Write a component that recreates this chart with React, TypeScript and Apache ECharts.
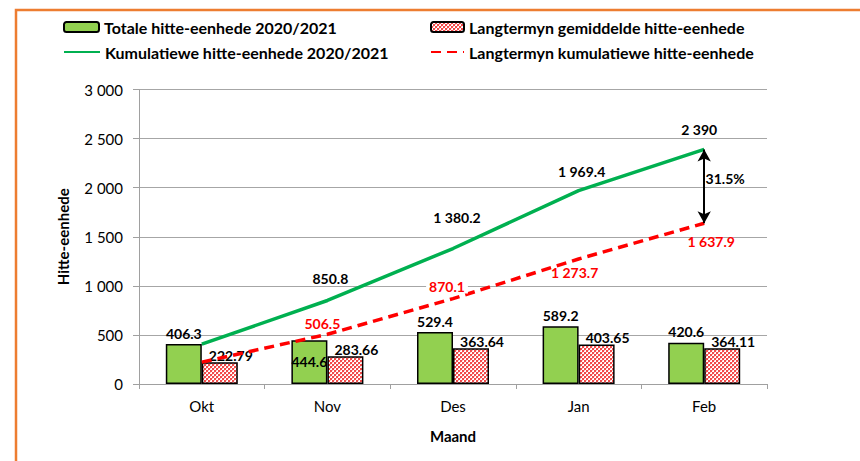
import React, { useEffect, useRef } from "react";
import * as echarts from "echarts";

const months = ["Okt", "Nov", "Des", "Jan", "Feb"];
const totalUnits = [406.3, 444.6, 529.4, 589.2, 420.6];
const longTermAvg = [222.79, 283.66, 363.64, 403.65, 364.11];
const cumulative = [406.3, 850.8, 1380.2, 1969.4, 2390];
const longTermCumulative = [222.79, 506.5, 870.1, 1273.7, 1637.9];
const yTicks = [0, 500, 1000, 1500, 2000, 2500, 3000];

const seriesNames = [
  "Totale hitte-eenhede 2020/2021",
  "Langtermyn gemiddelde hitte-eenhede",
  "Kumulatiewe hitte-eenhede 2020/2021",
  "Langtermyn kumulatiewe hitte-eenhede",
];

// label offsets (styling only)
const greenLineLabelOffsets: (number[] | null)[] = [null, [3, -22], [4, -31], [3, -19], [-5, -20]];
const redLineLabelOffsets: (number[] | null)[] = [null, [-5, -11], [-6, -12], [-4, 14], [7, 18]];

const FONT = "Lato";

function fmt(v: number): string {
  const s = String(v);
  const [i, d] = s.split(".");
  return i.replace(/\B(?=(\d{3})+(?!\d))/g, " ") + (d ? "." + d : "");
}

function makePattern(): HTMLCanvasElement {
  const c = document.createElement("canvas");
  c.width = 4;
  c.height = 4;
  const ctx = c.getContext("2d")!;
  ctx.fillStyle = "#ffffff";
  ctx.fillRect(0, 0, 4, 4);
  ctx.fillStyle = "#f24a4a";
  ctx.fillRect(0, 0, 2, 2);
  ctx.fillRect(2, 2, 2, 2);
  ctx.fillStyle = "#fbb";
  ctx.fillRect(2, 0, 1, 1);
  ctx.fillRect(0, 2, 1, 1);
  return c;
}

export default function App() {
  const ref = useRef<HTMLDivElement>(null);
  useEffect(() => {
    if (!ref.current) return;
    const chart = echarts.init(ref.current, null, { renderer: "svg" });
    const pattern = { image: makePattern(), repeat: "repeat" };
    const lastG = cumulative[cumulative.length - 1];
    const lastR = longTermCumulative[longTermCumulative.length - 1];
    const pct = (((lastG - lastR) / lastG) * 100).toFixed(1) + "%";
    const legendText = { fontFamily: FONT, fontWeight: "bold", fontSize: 16, color: "#000" };
    const lineLegendItem = { opacity: 0 };

    const option: any = {
      animation: false,
      textStyle: { fontFamily: FONT },
      graphic: [
        {
          type: "rect",
          shape: { x: 16, y: 10, width: 900, height: 500 },
          style: { fill: "none", stroke: "#ED7D31", lineWidth: 2.5 },
          silent: true,
        },
      ],
      legend: [
        { data: [seriesNames[0]], left: 63, top: 19, padding: 0, itemWidth: 35, itemHeight: 10, textStyle: legendText },
        { data: [seriesNames[1]], left: 430, top: 19, padding: 0, itemWidth: 33, itemHeight: 10, textStyle: legendText },
        { data: [seriesNames[2]], left: 63, top: 44, padding: 0, itemWidth: 36, itemHeight: 10, textStyle: legendText, itemStyle: lineLegendItem },
        { data: [seriesNames[3]], left: 430, top: 44, padding: 0, itemWidth: 33, itemHeight: 10, textStyle: legendText, itemStyle: lineLegendItem },
      ],
      grid: { left: 139, right: 93, top: 89.5, bottom: 77 },
      xAxis: {
        type: "category",
        data: months,
        name: "Maand",
        nameLocation: "middle",
        nameGap: 44,
        nameTextStyle: { fontFamily: FONT, fontWeight: "bold", fontSize: 15, color: "#000" },
        axisLine: { lineStyle: { color: "#a0a0a0", width: 1 } },
        axisTick: { show: true, length: 5, lineStyle: { color: "#a0a0a0" } },
        axisLabel: { fontFamily: FONT, fontSize: 15, color: "#000", margin: 14 },
      },
      yAxis: {
        type: "value",
        min: yTicks[0],
        max: yTicks[yTicks.length - 1],
        interval: yTicks[1] - yTicks[0],
        name: "Hitte-eenhede",
        nameLocation: "middle",
        nameGap: 69,
        nameTextStyle: { fontFamily: FONT, fontWeight: "bold", fontSize: 15, color: "#000" },
        axisLine: { show: true, lineStyle: { color: "#a0a0a0", width: 1 } },
        axisTick: { show: true, length: 6, lineStyle: { color: "#a0a0a0" } },
        splitLine: { lineStyle: { color: "#a6a6a6", width: 1 } },
        axisLabel: {
          fontFamily: FONT,
          fontSize: 15,
          color: "#000",
          margin: 16,
          formatter: (v: number) => fmt(v),
        },
      },
      series: [
        {
          name: seriesNames[0],
          type: "bar",
          barWidth: 36,
          barGap: "0%",
          itemStyle: { color: "#92D050", borderColor: "#000", borderWidth: 1.5 },
          label: {
            show: true,
            position: "top",
            distance: 4,
            fontFamily: FONT,
            fontWeight: "bold",
            fontSize: 14,
            color: "#000",
            formatter: (p: any) => fmt(p.value),
          },
          data: totalUnits.map((v, i) =>
            i === 1
              ? { value: v, label: { position: "insideTop", distance: 14 } }
              : v
          ),
          z: 2,
        },
        {
          name: seriesNames[1],
          type: "bar",
          barWidth: 36,
          barGap: "0%",
          itemStyle: { color: pattern, borderColor: "#000", borderWidth: 1.5 },
          label: {
            show: true,
            position: "top",
            distance: 2,
            offset: [11, 2],
            fontFamily: FONT,
            fontWeight: "bold",
            fontSize: 14,
            color: "#000",
            formatter: (p: any) => fmt(p.value),
          },
          data: longTermAvg,
          z: 2,
        },
        {
          name: seriesNames[2],
          type: "line",
          symbol: "circle",
          symbolSize: 0,
          itemStyle: { color: "#00B050" },
          lineStyle: { color: "#00B050", width: 3.5 },
          label: {
            show: true,
            position: "inside",
            fontFamily: FONT,
            fontWeight: "bold",
            fontSize: 14,
            color: "#000",
            formatter: (p: any) => fmt(p.value),
          },
          data: cumulative.map((v, i) => {
            const off = greenLineLabelOffsets[i];
            return off ? { value: v, label: { offset: off } } : { value: v, label: { show: false } };
          }),
          markLine: {
            silent: true,
            symbol: ["arrow", "arrow"],
            symbolSize: [10, 12],
            lineStyle: { color: "#000", width: 2, type: "solid" },
            label: { show: false },
            data: [
              [
                { coord: [months[months.length - 1], lastG] },
                { coord: [months[months.length - 1], lastR] },
              ],
            ],
          },
          markPoint: {
            silent: true,
            symbol: "circle",
            symbolSize: 0,
            label: {
              show: true,
              position: "inside",
              offset: [21, -8],
              fontFamily: FONT,
              fontWeight: "bold",
              fontSize: 14,
              color: "#000",
              formatter: () => pct,
            },
            data: [{ coord: [months[months.length - 1], (lastG + lastR) / 2] }],
          },
          z: 4,
        },
        {
          name: seriesNames[3],
          type: "line",
          symbol: "circle",
          symbolSize: 0,
          itemStyle: { color: "#FF0000" },
          lineStyle: { color: "#FF0000", width: 3.5, type: [10, 6] },
          label: {
            show: true,
            position: "inside",
            fontFamily: FONT,
            fontWeight: "bold",
            fontSize: 14,
            color: "#FF0000",
            formatter: (p: any) => fmt(p.value),
          },
          data: longTermCumulative.map((v, i) => {
            const off = redLineLabelOffsets[i];
            if (!off) return { value: v, label: { show: false } };
            return i === 2
              ? { value: v, label: { offset: off, backgroundColor: "#fff", padding: [0, 3] } }
              : { value: v, label: { offset: off } };
          }),
          z: 3,
        },
      ],
    };
    chart.setOption(option);
    return () => chart.dispose();
  }, []);
  return (
    <div
      ref={ref}
      style={{ position: "fixed", left: 0, top: 0, width: 860, height: 461, background: "#fff" }}
    />
  );
}
